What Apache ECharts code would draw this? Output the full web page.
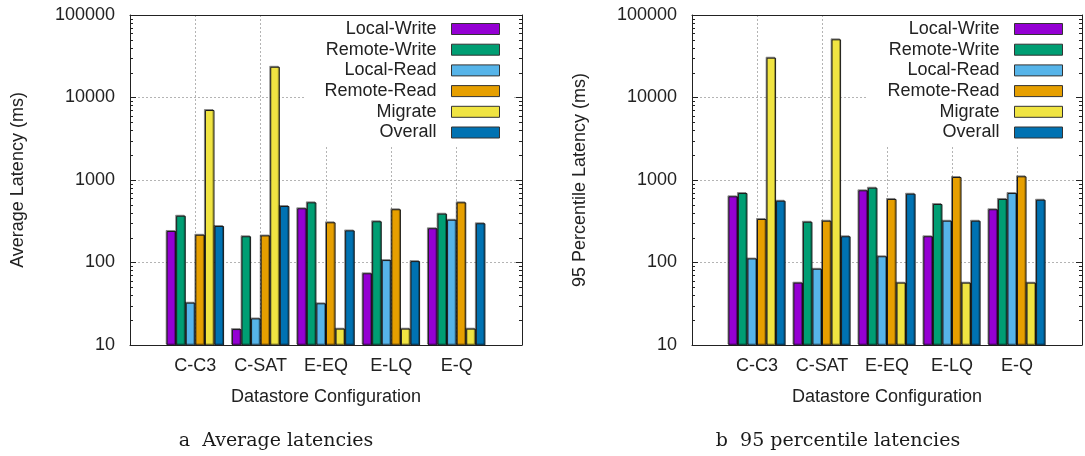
<!DOCTYPE html>
<html>
<head>
<meta charset="utf-8">
<script src="https://cdn.jsdelivr.net/npm/echarts@6/dist/echarts.min.js"></script>
<style>
  html, body { margin: 0; padding: 0; background: #fff; }
  #chart { width: 1085px; height: 456px; }
</style>
</head>
<body>
<div id="chart"></div>
<script>
// categories and series names
const categories = ['C-C3', 'C-SAT', 'E-EQ', 'E-LQ', 'E-Q'];
const seriesNames = ['Local-Write', 'Remote-Write', 'Local-Read', 'Remote-Read', 'Migrate', 'Overall'];
const seriesColors = ['#9400d3', '#009e73', '#56b4e9', '#e69f00', '#f0e442', '#0072b2'];

// average latency (ms)
const avgLocalWrite = [241, 15.6, 454, 74, 260];
const avgRemoteWrite = [369, 208, 536, 316, 391];
const avgLocalRead = [32.6, 21, 32, 107, 330];
const avgRemoteRead = [217, 213, 307, 442, 536];
const avgMigrate = [7050, 23600, 15.8, 15.8, 15.8];
const avgOverall = [277, 484, 245, 104, 299];

// 95 percentile latency (ms)
const p95LocalWrite = [634, 57, 750, 208, 442];
const p95RemoteWrite = [695, 312, 807, 512, 589];
const p95LocalRead = [112, 84, 119, 321, 695];
const p95RemoteRead = [337, 321, 589, 1087, 1108];
const p95Migrate = [30400, 50700, 57, 57, 57];
const p95Overall = [561, 208, 682, 321, 577];

// log axis minor ticks (2..9 in each decade)
const decades = [10, 100, 1000, 10000];
const minorSteps = [2, 3, 4, 5, 6, 7, 8, 9];

const FONT = 'Liberation Sans';
const TEXT = '#222';

const avgData = [avgLocalWrite, avgRemoteWrite, avgLocalRead, avgRemoteRead, avgMigrate, avgOverall];
const p95Data = [p95LocalWrite, p95RemoteWrite, p95LocalRead, p95RemoteRead, p95Migrate, p95Overall];

// empty slot on each side of the groups, like gnuplot's xrange
const axisCats = [''].concat(categories, ['']);
const pad = vals => ['-'].concat(vals, ['-']);

const minorTicks = [];
decades.forEach(d => minorSteps.forEach(s => minorTicks.push([1, d * s])));

const grids = [
  { left: 130, right: 563, top: 15, bottom: 111 },
  { left: 692, right: 1, top: 15, bottom: 111 }
];

const yNames = ['Average Latency (ms)', '95 Percentile Latency (ms)'];

const xAxis = [];
const yAxis = [];
grids.forEach((g, i) => {
  xAxis.push({
    type: 'category', gridIndex: i, data: axisCats, boundaryGap: false,
    name: 'Datastore Configuration', nameLocation: 'middle', nameGap: 43,
    nameTextStyle: { fontFamily: FONT, fontSize: 18, color: TEXT },
    axisLine: { lineStyle: { color: '#222', width: 1 } },
    axisTick: { show: false },
    axisLabel: { fontFamily: FONT, fontSize: 18, color: TEXT, margin: 12, interval: 0 },
    splitLine: { show: true, lineStyle: { color: '#b4b4b4', type: [2, 2], width: 1 } }
  });
  xAxis.push({
    type: 'category', gridIndex: i, data: axisCats, boundaryGap: false, position: 'top',
    axisLine: { lineStyle: { color: '#222', width: 1 } },
    axisTick: { show: false }, axisLabel: { show: false }, splitLine: { show: false }
  });
  yAxis.push({
    type: 'log', gridIndex: i, min: 10, max: 100000, logBase: 10,
    name: yNames[i], nameLocation: 'middle', nameGap: 103,
    nameTextStyle: { fontFamily: FONT, fontSize: 18, color: TEXT },
    axisLine: { show: true, lineStyle: { color: '#222', width: 1 } },
    axisTick: { show: true, inside: true, length: 6, lineStyle: { color: '#222' } },
    axisLabel: { fontFamily: FONT, fontSize: 18, color: TEXT, margin: 15, formatter: v => String(Math.round(v)) },
    splitLine: { show: true, lineStyle: { color: '#b4b4b4', type: [2, 2], width: 1 } }
  });
  yAxis.push({
    type: 'log', gridIndex: i, min: 10, max: 100000, logBase: 10, position: 'right',
    axisLine: { show: true, lineStyle: { color: '#222', width: 1 } },
    axisTick: { show: true, inside: true, length: 6, lineStyle: { color: '#222' } },
    axisLabel: { show: false }, splitLine: { show: false }
  });
});

const series = [];
[avgData, p95Data].forEach((dataSet, i) => {
  dataSet.forEach((vals, k) => {
    series.push({
      type: 'bar', name: seriesNames[k], xAxisIndex: i * 2, yAxisIndex: i * 2,
      data: pad(vals), barGap: '0%', barCategoryGap: '12%',
      itemStyle: {
        color: seriesColors[k], borderColor: '#1a1a1a', borderWidth: 1,
        shadowColor: 'rgba(0,0,0,0.35)', shadowOffsetX: -1, shadowOffsetY: -1, shadowBlur: 0
      },
      emphasis: { disabled: true }
    });
  });
  series.push({
    type: 'custom', xAxisIndex: i * 2, yAxisIndex: i * 2, data: minorTicks, silent: true, z: 5,
    renderItem: (params, api) => {
      const y = Math.round(api.coord([1, api.value(1)])[1]) + 0.5;
      const cs = params.coordSys;
      return {
        type: 'group', children: [
          { type: 'line', shape: { x1: cs.x, y1: y, x2: cs.x + 3, y2: y }, style: { stroke: '#222', lineWidth: 1 } },
          { type: 'line', shape: { x1: cs.x + cs.width - 3, y1: y, x2: cs.x + cs.width, y2: y }, style: { stroke: '#222', lineWidth: 1 } }
        ]
      };
    }
  });
});

const legendBase = {
  orient: 'vertical', top: 16, align: 'right', icon: 'rect',
  itemWidth: 48, itemHeight: 11, itemGap: 2.7,
  backgroundColor: '#fff',
  textStyle: { fontFamily: FONT, fontSize: 18, color: TEXT, lineHeight: 18, padding: [0, 10, 0, 0] },
  itemStyle: { borderColor: '#333', borderWidth: 1, shadowBlur: 0, shadowOffsetX: 0, shadowOffsetY: 0, shadowColor: 'transparent' },
  selectedMode: false,
  data: seriesNames
};

const chart = echarts.init(document.getElementById('chart'));
chart.setOption({
  animation: false,
  backgroundColor: '#fff',
  grid: grids,
  xAxis: xAxis,
  yAxis: yAxis,
  legend: [
    Object.assign({}, legendBase, { right: 572, padding: [4, 13, 4, 20] }),
    Object.assign({}, legendBase, { right: 10, padding: [4, 12, 4, 21] })
  ],
  graphic: [
    { type: 'text', x: 276, y: 441, style: { text: 'a  Average latencies', align: 'center', verticalAlign: 'middle', fontFamily: 'DejaVu Serif', fontSize: 19, fill: '#1a1a1a' } },
    { type: 'text', x: 838, y: 441, style: { text: 'b  95 percentile latencies', align: 'center', verticalAlign: 'middle', fontFamily: 'DejaVu Serif', fontSize: 19, fill: '#1a1a1a' } }
  ],
  series: series
});
</script>
</body>
</html>
